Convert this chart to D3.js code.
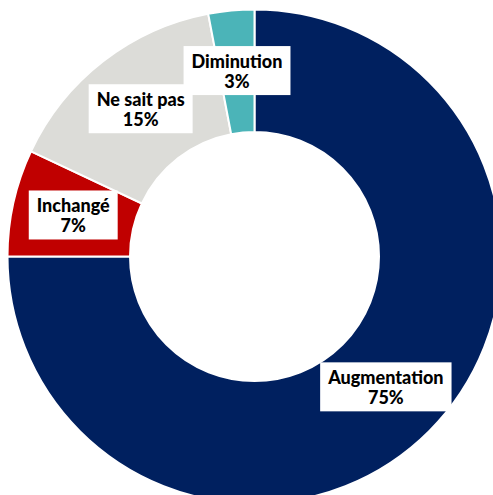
<!DOCTYPE html>
<html>
<head>
<meta charset="utf-8">
<script src="https://cdn.jsdelivr.net/npm/d3@7"></script>
<style>
  html, body { margin: 0; padding: 0; background: #ffffff; overflow: hidden; }
  svg { display: block; }
</style>
</head>
<body>
<svg id="chart" width="493" height="495"></svg>
<script>
// Répartition des réponses (%)
const categories = ["Augmentation", "Inchangé", "Ne sait pas", "Diminution"];
const values = [75, 7, 15, 3];
const labels = ["75%", "7%", "15%", "3%"];
const colors = ["#00205f", "#c00000", "#dcdcd8", "#4bb4b8"];

const width = 493, height = 495;
const cx = 254.5, cy = 256.5;
const outerR = 247, innerR = 124.5;

const svg = d3.select("#chart");
const g = svg.append("g").attr("transform", `translate(${cx},${cy})`);

const data = categories.map((c, i) => ({ name: c, value: values[i], label: labels[i], color: colors[i] }));

const pie = d3.pie().value(d => d.value).sort(null);
const arc = d3.arc().innerRadius(innerR).outerRadius(outerR);
const arcs = pie(data);

g.selectAll("path.slice")
  .data(arcs)
  .join("path")
  .attr("class", "slice")
  .attr("d", arc)
  .attr("fill", d => d.data.color)
  .attr("stroke", "#ffffff")
  .attr("stroke-width", 2)
  .attr("stroke-linejoin", "miter");

// Étiquettes encadrées au centre de chaque secteur
const fontSize = 18;
const lineGap = 20;
const labelG = g.selectAll("g.lbl")
  .data(arcs)
  .join("g")
  .attr("class", "lbl")
  .attr("transform", d => `translate(${arc.centroid(d)})`);

labelG.each(function(d) {
  const sel = d3.select(this);
  const rect = sel.append("rect").attr("fill", "#ffffff");
  const t1 = sel.append("text")
    .attr("text-anchor", "middle")
    .attr("y", -4)
    .attr("font-family", "Lato, 'Open Sans', sans-serif")
    .attr("font-weight", 900)
    .attr("font-size", fontSize)
    .attr("fill", "#000000")
    .text(d.data.name);
  const t2 = sel.append("text")
    .attr("text-anchor", "middle")
    .attr("y", -4 + lineGap)
    .attr("font-family", "Lato, 'Open Sans', sans-serif")
    .attr("font-weight", 900)
    .attr("font-size", fontSize)
    .attr("fill", "#000000")
    .text(d.data.label);
  const w = Math.max(t1.node().getComputedTextLength(), t2.node().getComputedTextLength());
  const bw = w + 16, bh = 49;
  rect.attr("x", -bw / 2).attr("y", -bh / 2 - 1).attr("width", bw).attr("height", bh);
});
</script>
</body>
</html>
